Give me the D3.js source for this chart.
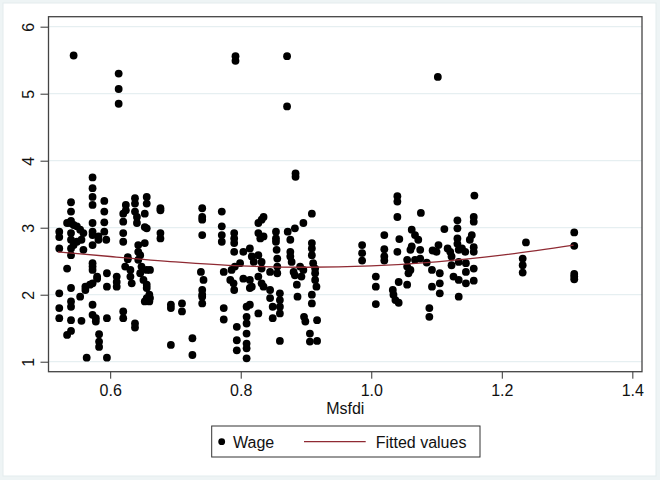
<!DOCTYPE html>
<html>
<head>
<meta charset="utf-8">
<script src="https://cdn.jsdelivr.net/npm/d3@7"></script>
<style>
  html, body { margin: 0; padding: 0; background: #ffffff; }
  svg { display: block; }
  text { font-family: "Liberation Sans", Arial, sans-serif; fill: #111; }
</style>
</head>
<body>
<svg id="chart" width="660" height="480"></svg>
<script>
// ---- data ----
const groupMsfdi = [
  0.522, 0.534, 0.539, 0.540, 0.544, 0.549, 0.554, 0.556, 0.559, 0.562, 0.564, 0.569,
  0.573, 0.578, 0.580, 0.582, 0.583, 0.591, 0.594, 0.595, 0.610, 0.613, 0.620, 0.623,
  0.624, 0.627, 0.631, 0.633, 0.638, 0.641, 0.643, 0.646, 0.648, 0.651, 0.653, 0.656,
  0.660, 0.661, 0.677, 0.693, 0.710, 0.726, 0.739, 0.741, 0.743, 0.771, 0.774, 0.784,
  0.786, 0.789, 0.790, 0.791, 0.792, 0.794, 0.799, 0.804, 0.809, 0.814, 0.817, 0.820,
  0.827, 0.830, 0.832, 0.835, 0.845, 0.849, 0.854, 0.855, 0.856, 0.860, 0.871, 0.872,
  0.876, 0.878, 0.881, 0.883, 0.884, 0.886, 0.887, 0.891, 0.893, 0.896, 0.897, 0.899,
  0.906, 0.909, 0.911, 0.914, 0.916, 0.917, 0.986, 1.007, 1.020, 1.033, 1.034, 1.037,
  1.040, 1.042, 1.043, 1.055, 1.057, 1.060, 1.062, 1.067, 1.072, 1.075, 1.076, 1.085,
  1.089, 1.093, 1.094, 1.100, 1.102, 1.103, 1.105, 1.112, 1.117, 1.121, 1.123, 1.126,
  1.132, 1.134, 1.139, 1.144, 1.145, 1.151, 1.154, 1.157, 1.158, 1.232, 1.237, 1.311
];
const groupWage = [
  [2.94,2.86,2.69,2.02,1.80,1.65], [3.07,2.39,1.40], [3.07],
  [3.38,3.24,3.10,2.92,2.82,2.69,2.59,2.10,1.90,1.82,1.62,1.46], [5.57,3.04,2.74],
  [3.02,2.79], [2.97,1.97], [2.82,1.61], [2.92,2.67], [2.12,2.07], [1.06], [2.15],
  [3.75,3.59,3.46,3.34,3.07,2.94,2.89,2.74,2.47,2.42,2.37,2.17,1.85,1.70], [1.65,1.60],
  [2.27,2.24], [2.87,2.82], [1.41,1.30,1.22], [3.40,3.24,3.08,2.94], [2.82],
  [2.32,2.12,1.65,1.06], [2.27,2.19,2.12], [5.30,5.07,4.85], [3.21,3.09,2.92,2.79,1.75,1.65],
  [2.42], [3.34,3.26], [2.56,2.53], [2.37,2.27], [2.17], [3.44,3.36,3.24,1.57,1.51],
  [3.16,3.07], [2.74,2.64,2.52], [2.59,2.32], [2.42], [2.22], [3.21,3.01,2.77,1.90],
  [3.46,3.36,2.99,2.37,2.15,2.10,1.95], [2.00,1.90], [2.37,1.95], [3.29,3.26,2.92,2.84],
  [1.85,1.80,1.25], [1.87,1.75], [1.35,1.10], [2.34], [3.29,3.16,3.12,2.89,2.07,2.00,1.97,1.87],
  [2.22], [3.24,3.02,2.89,2.79], [2.34,1.80,1.63], [2.22], [2.37], [2.17],
  [2.92,2.84,2.77,2.64,2.07], [2.42], [5.56,5.49], [1.52,1.32,1.17], [2.47], [2.64,2.24],
  [1.82,1.67,1.57,1.42,1.27,1.20,1.05], [2.69,2.22,2.10,1.85], [2.57,2.12], [2.49],
  [3.07,2.92,2.59,2.27,1.72], [2.84], [3.12,2.49,2.39,2.17], [3.16,2.87,2.12],
  [2.34,2.07,1.95], [1.82,1.65], [2.94,2.84,2.79], [2.67], [2.54,2.42,2.32],
  [2.02,1.92,1.82,1.72,1.31], [5.56,4.81], [2.94], [2.82,2.64,2.57], [2.49], [2.34],
  [2.99,2.29], [3.81,3.76], [2.15], [1.97], [2.42], [2.27], [3.07,2.37], [1.67], [1.60],
  [1.42,1.30], [3.21,2.77,2.69,2.59,2.00,1.87], [2.47], [2.39,2.32,2.22], [2.12], [1.62,1.31],
  [2.74,2.62,2.51], [2.27,2.12,1.86], [2.89,2.68,2.57,2.51], [2.07], [2.00], [1.92],
  [3.47,3.39,3.16,2.64], [2.19,1.88], [2.83], [2.52,2.42,2.15], [2.32], [2.37,2.67],
  [2.97,2.72], [2.89,2.52], [2.82], [2.67,2.54], [3.22], [2.48],
  [1.80,1.67], [2.37,2.12], [2.66], [2.64], [5.25], [2.74], [2.32,2.17,2.02], [2.98],
  [2.69], [2.64], [2.57,2.44], [2.27],
  [3.11,2.99,2.84,2.76], [2.67,2.49,2.22,1.97], [2.69], [2.64], [2.47,2.34,2.17], [2.82],
  [2.89], [3.16,3.09,2.71,2.64,2.39,2.21], [3.48], [2.54,2.44,2.33], [2.78],
  [2.93,2.73,2.31,2.27,2.23]
];
const fitMsfdi = [0.52, 0.60, 0.70, 0.80, 0.90, 1.00, 1.10, 1.20, 1.31];
const fitValues = [2.64, 2.57, 2.49, 2.43, 2.41, 2.43, 2.49, 2.59, 2.74];
const xTicks = [0.6, 0.8, 1.0, 1.2, 1.4];
const yTicks = [1, 2, 3, 4, 5, 6];
const xTitle = "Msfdi";
const legendLabels = ["Wage", "Fitted values"];

// ---- build observations ----
const points = [];
groupMsfdi.forEach((x, i) => groupWage[i].forEach(w => points.push({ x, w })));
const fitted = fitMsfdi.map((x, i) => ({ x, w: fitValues[i] }));

// ---- layout ----
const svg = d3.select("#chart");
const plot = { left: 48.5, right: 642, top: 16.7, bottom: 371.7 };
const x = d3.scaleLinear().domain([0.5055, 1.4148]).range([plot.left, plot.right]);
const y = d3.scaleLinear().domain([0.851, 6.149]).range([plot.bottom, plot.top]);
const maroon = "#8f2a33";

// outer graph region
svg.append("rect").attr("x", 0).attr("y", 0).attr("width", 660).attr("height", 480)
  .attr("fill", "#eef4f5");
svg.append("rect").attr("x", 3).attr("y", 3).attr("width", 653).attr("height", 473)
  .attr("fill", "#ffffff").attr("stroke", "#e3ecee");

// plot region
svg.append("rect").attr("x", plot.left).attr("y", plot.top)
  .attr("width", plot.right - plot.left).attr("height", plot.bottom - plot.top)
  .attr("fill", "#ffffff");

// gridlines
svg.append("g").selectAll("line").data(yTicks).join("line")
  .attr("x1", plot.left).attr("x2", plot.right)
  .attr("y1", d => y(d)).attr("y2", d => y(d))
  .attr("stroke", "#e6eff1").attr("stroke-width", 1.2);

// y axis
const yAxis = svg.append("g").attr("transform", `translate(${plot.left},0)`)
  .call(d3.axisLeft(y).tickValues(yTicks).tickSize(8).tickPadding(12).tickFormat(d3.format("d")));
yAxis.select(".domain").remove();
yAxis.selectAll(".tick line").attr("stroke", "#333");
yAxis.selectAll(".tick text")
  .attr("font-size", 16)
  .attr("font-family", "Liberation Sans, Arial, sans-serif")
  .attr("fill", "#111")
  .attr("x", null).attr("dy", null)
  .attr("text-anchor", "middle")
  .attr("transform", "translate(-15,0) rotate(-90) translate(0,0)")
  .attr("y", 0)
  .attr("dy", "0.35em");
// rotate labels around their own centre
yAxis.selectAll(".tick text").each(function () {
  d3.select(this).attr("transform", "translate(-20.5,0) rotate(-90)").attr("x", 0).attr("y", 0)
    .attr("dy", "0.36em");
});

// x axis
const xAxis = svg.append("g").attr("transform", `translate(0,${plot.bottom})`)
  .call(d3.axisBottom(x).tickValues(xTicks).tickSize(7).tickPadding(6).tickFormat(d3.format(".1f")));
xAxis.select(".domain").remove();
xAxis.selectAll(".tick line").attr("stroke", "#333");
xAxis.selectAll(".tick text")
  .attr("font-size", 16)
  .attr("font-family", "Liberation Sans, Arial, sans-serif")
  .attr("fill", "#111");

// x title
svg.append("text").attr("x", (plot.left + plot.right) / 2).attr("y", 414)
  .attr("text-anchor", "middle").attr("font-size", 16).text(xTitle);

// scatter
svg.append("g").selectAll("circle").data(points).join("circle")
  .attr("cx", d => x(d.x)).attr("cy", d => y(d.w)).attr("r", 3.9)
  .attr("fill", "#000");

// fitted line
svg.append("path").datum(fitted)
  .attr("d", d3.line().x(d => x(d.x)).y(d => y(d.w)).curve(d3.curveMonotoneX))
  .attr("fill", "none").attr("stroke", maroon).attr("stroke-width", 1.3);

// frame
svg.append("rect").attr("x", plot.left).attr("y", plot.top)
  .attr("width", plot.right - plot.left).attr("height", plot.bottom - plot.top)
  .attr("fill", "none").attr("stroke", "#444").attr("stroke-width", 1.3);

// legend
const lg = svg.append("g");
lg.append("rect").attr("x", 211.7).attr("y", 426).attr("width", 268.3).attr("height", 31)
  .attr("fill", "#fff").attr("stroke", "#333").attr("stroke-width", 1);
lg.append("circle").attr("cx", 221.7).attr("cy", 441.7).attr("r", 3.4).attr("fill", "#000");
lg.append("text").attr("x", 233).attr("y", 447.5).attr("font-size", 16).text(legendLabels[0]);
lg.append("line").attr("x1", 304).attr("x2", 365.7).attr("y1", 441.7).attr("y2", 441.7)
  .attr("stroke", maroon).attr("stroke-width", 1.3);
lg.append("text").attr("x", 375.7).attr("y", 447.5).attr("font-size", 16).text(legendLabels[1]);
</script>
</body>
</html>
